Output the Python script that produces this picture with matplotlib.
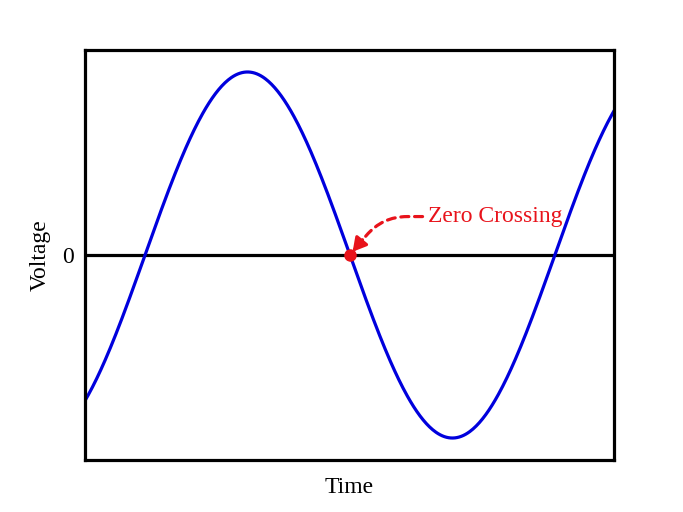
import numpy as np
import matplotlib.pyplot as plt

plt.rcParams['font.family'] = ['Liberation Serif', 'DejaVu Serif']

# sine wave (radians, unit amplitude)
amplitude = 1.0
t_start, t_end = -0.92, 7.19
crossing_t = np.pi
label_pos = (4.34, 0.21)

t = np.linspace(t_start, t_end, 500)
v = amplitude * np.sin(t)

blue = '#0000dd'
red = '#e8131b'

fig = plt.figure(figsize=(6.83, 5.12), dpi=100)
ax = fig.add_axes([0.1245, 0.1016, 0.7745, 0.8007])

ax.axhline(0, color='black', lw=2.3, zorder=1)
ax.plot(t, v, color=blue, lw=2.3, zorder=2)
ax.plot([crossing_t], [0], 'o', color=red, ms=8, zorder=3)

# dashed leader line, then a solid head on top
ax.annotate('Zero Crossing', xy=(crossing_t, 0), xytext=label_pos,
            color=red, fontsize=17, ha='left', va='center',
            arrowprops=dict(arrowstyle='-', color=red, lw=2.3,
                            linestyle=(0, (2.5, 1.8)),
                            connectionstyle='angle,angleA=0,angleB=50,rad=25',
                            shrinkA=2, shrinkB=10))
ax.annotate('', xy=(crossing_t, 0), xytext=(9, 11), textcoords='offset points',
            arrowprops=dict(arrowstyle='-|>,head_length=0.8,head_width=0.45',
                            color=red, lw=2.3, shrinkA=0, shrinkB=3))

ax.set_xlim(t_start, t_end)
ax.set_ylim(-1.12, 1.12)
ax.set_xticks([])
ax.set_yticks([0])
ax.tick_params(length=0, labelsize=17, pad=8)
ax.set_xlabel('Time', fontsize=17, labelpad=12)
ax.set_ylabel('Voltage', fontsize=17, labelpad=8)
for s in ax.spines.values():
    s.set_linewidth(2.3)

fig.savefig('out.png', dpi=100)
